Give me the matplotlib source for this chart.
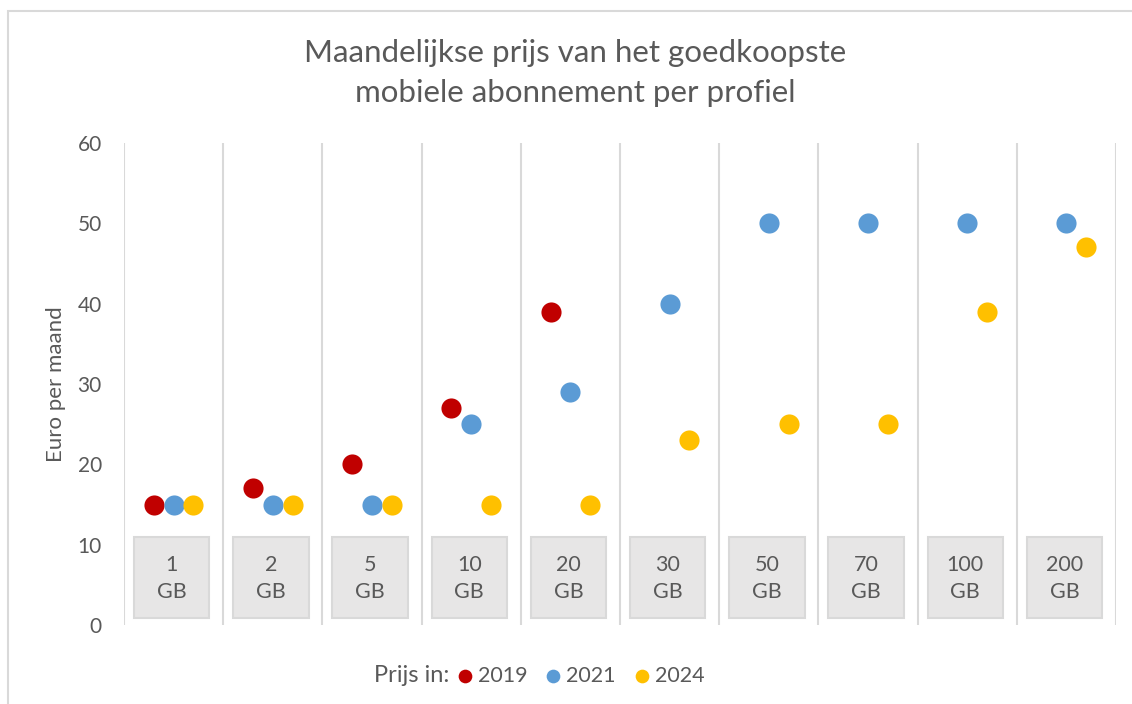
import matplotlib.pyplot as plt
from matplotlib.patches import Rectangle
import numpy as np

plt.rcParams['font.family'] = ['Lato', 'DejaVu Sans']

# data
bundles = ['1', '2', '5', '10', '20', '30', '50', '70', '100', '200']
prijs_2019 = [15, 17, 20, 27, 39, np.nan, np.nan, np.nan, np.nan, np.nan]
prijs_2021 = [15, 15, 15, 25, 29, 40, 50, 50, 50, 50]
prijs_2024 = [15, 15, 15, 15, 15, 23, 25, 25, 39, 47]

grey = '#595959'
fig = plt.figure(figsize=(11.32, 7.04), dpi=100)
ax = fig.add_axes([124/1132, 1-625/704, (1116-124)/1132, (625-143)/704])

x = np.arange(len(bundles))

# category separators
for b in np.arange(-0.5, len(bundles) + 0.5, 1):
    ax.plot([b, b], [0, 60], color='#d9d9d9', lw=1.5, zorder=1)

# grey label boxes
for i, name in enumerate(bundles):
    ax.add_patch(Rectangle((i - 0.4, 0.9), 0.76, 10.1, facecolor='#e7e6e6',
                           edgecolor='#d9d9d9', lw=1.5, zorder=2))
    ax.text(i - 0.02, 5.8, name + '\nGB', ha='center', va='center', fontsize=15.5,
            color=grey, linespacing=1.45, zorder=3)

ax.scatter(x - 0.2, prijs_2019, s=210, color='#c00000', label='2019', zorder=4, lw=0)
ax.scatter(x, prijs_2021, s=210, color='#5b9bd5', label='2021', zorder=4, lw=0)
ax.scatter(x + 0.2, prijs_2024, s=210, color='#ffc000', label='2024', zorder=4, lw=0)

ax.set_xlim(-0.5, len(bundles) - 0.5)
ax.set_ylim(0, 60)
ax.set_yticks(range(0, 61, 10))
ax.set_xticks([])
ax.tick_params(axis='y', length=0, labelsize=15, labelcolor=grey, pad=16)
for s in ax.spines.values():
    s.set_visible(False)
ax.set_ylabel('Euro per maand', fontsize=16, color=grey, labelpad=8)

fig.text(575/1132, 1-73/704, 'Maandelijkse prijs van het goedkoopste\nmobiele abonnement per profiel',
         ha='center', va='center', fontsize=22.5, color=grey, linespacing=1.55)

fig.text(449/1132, 1-675/704, 'Prijs in:', ha='right', va='center', fontsize=17, color=grey)
leg = ax.legend(loc='center left', bbox_to_anchor=(437/1132, 1-676/704),
                bbox_transform=fig.transFigure, ncol=3, frameon=False, fontsize=15.5,
                markerscale=0.68, handletextpad=0.2, columnspacing=0.8, handlelength=0.8)
for t in leg.get_texts():
    t.set_color(grey)

# light frame around the chart
fig.patches.append(Rectangle((8/1132, -0.1), 1.2, 1.1 - 11/704, transform=fig.transFigure,
                             fill=False, edgecolor='#d9d9d9', lw=1.5))

fig.savefig('out.png', dpi=100)
